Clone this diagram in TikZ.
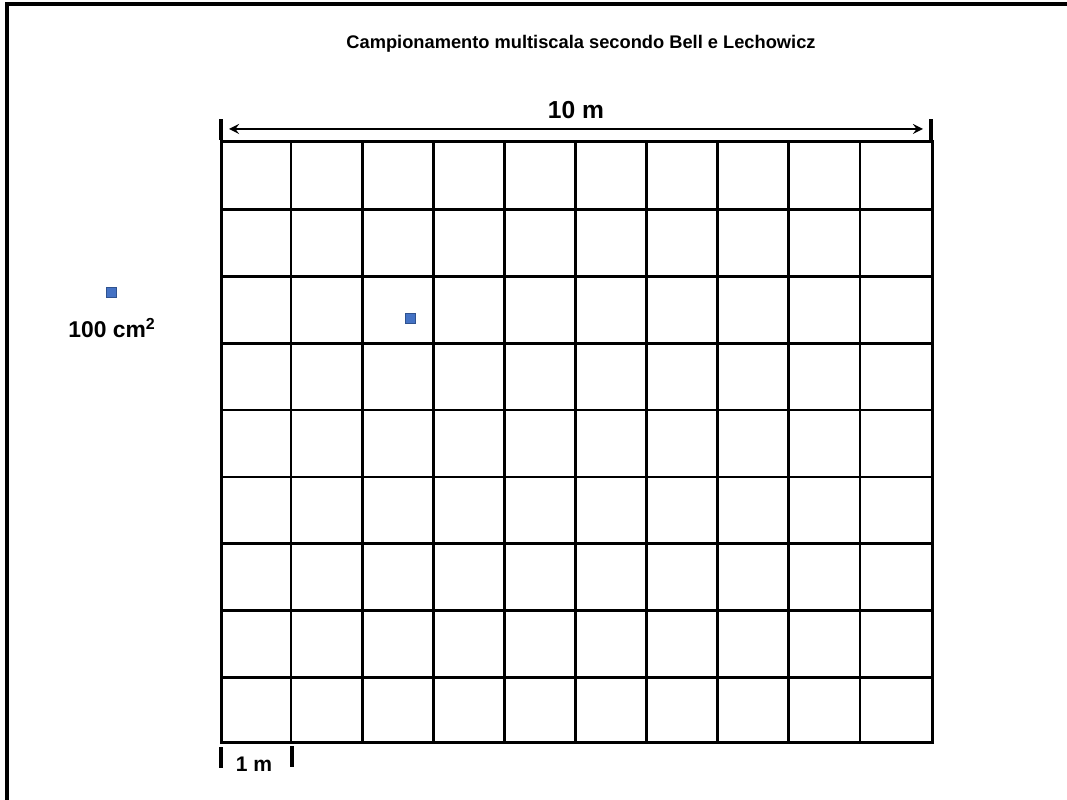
\documentclass[tikz,border=0pt]{standalone}
\usepackage{fontspec}
\setmainfont{Liberation Sans}
\usepackage{tikz}

\definecolor{quadblue}{HTML}{4472C4}
\definecolor{quadedge}{HTML}{2F528F}

\begin{document}
\begin{tikzpicture}[x=0.02cm, y=0.02cm, >=stealth, line width=1.5pt,
  every node/.style={font=\bfseries},
  quadrat/.style={draw=quadedge, fill=quadblue, line width=0.4pt, minimum size=0.2cm, inner sep=0pt}]
  \useasboundingbox (0,0) rectangle (1067,800);
  % frame
  \draw[line width=1.8pt] (7,0) -- (7,796) -- (1067,796);
  \node[font=\bfseries\fontsize{10.4}{12}\selectfont] (title) at (581,756) {Campionamento multiscala secondo Bell e Lechowicz};
  % 10 m x 9 m plot
  \node[draw, minimum width=14.22cm, minimum height=12.02cm, inner sep=0pt, anchor=south west] (plot) at (220,56) {};
  \foreach \i in {1,...,9}
    \draw ({220+71.1*\i},56) -- ({220+71.1*\i},657);
  \foreach \j in {1,...,8}
    \draw (220,{56+66.78*\j}) -- (931,{56+66.78*\j});
  % width
  \draw[line width=2pt] (221,660) -- (221,681);
  \draw[line width=2pt] (931,660) -- (931,681);
  \coordinate (wleft) at (229,671);
  \coordinate (wright) at (923,671);
  \draw[<->,line width=1.5pt] (wleft) -- (wright);
  \node[font=\bfseries\fontsize{14}{16}\selectfont] (wlabel) at (576,690) {10 m};
  % one cell
  \draw[line width=2pt] (221,32) -- (221,53);
  \draw[line width=2pt] (292,33) -- (292,54);
  \node[font=\bfseries\fontsize{12}{14}\selectfont] (clabel) at (254,36) {1 m};
  % 100 cm2 quadrats
  \node[quadrat] (qkey) at (111,508) {};
  \node[font=\bfseries\fontsize{13}{15}\selectfont] (qlabel) at (112,472) {100 cm\textsuperscript{2}};
  \node[quadrat] (qplot) at (410,482) {};
\end{tikzpicture}
\end{document}
